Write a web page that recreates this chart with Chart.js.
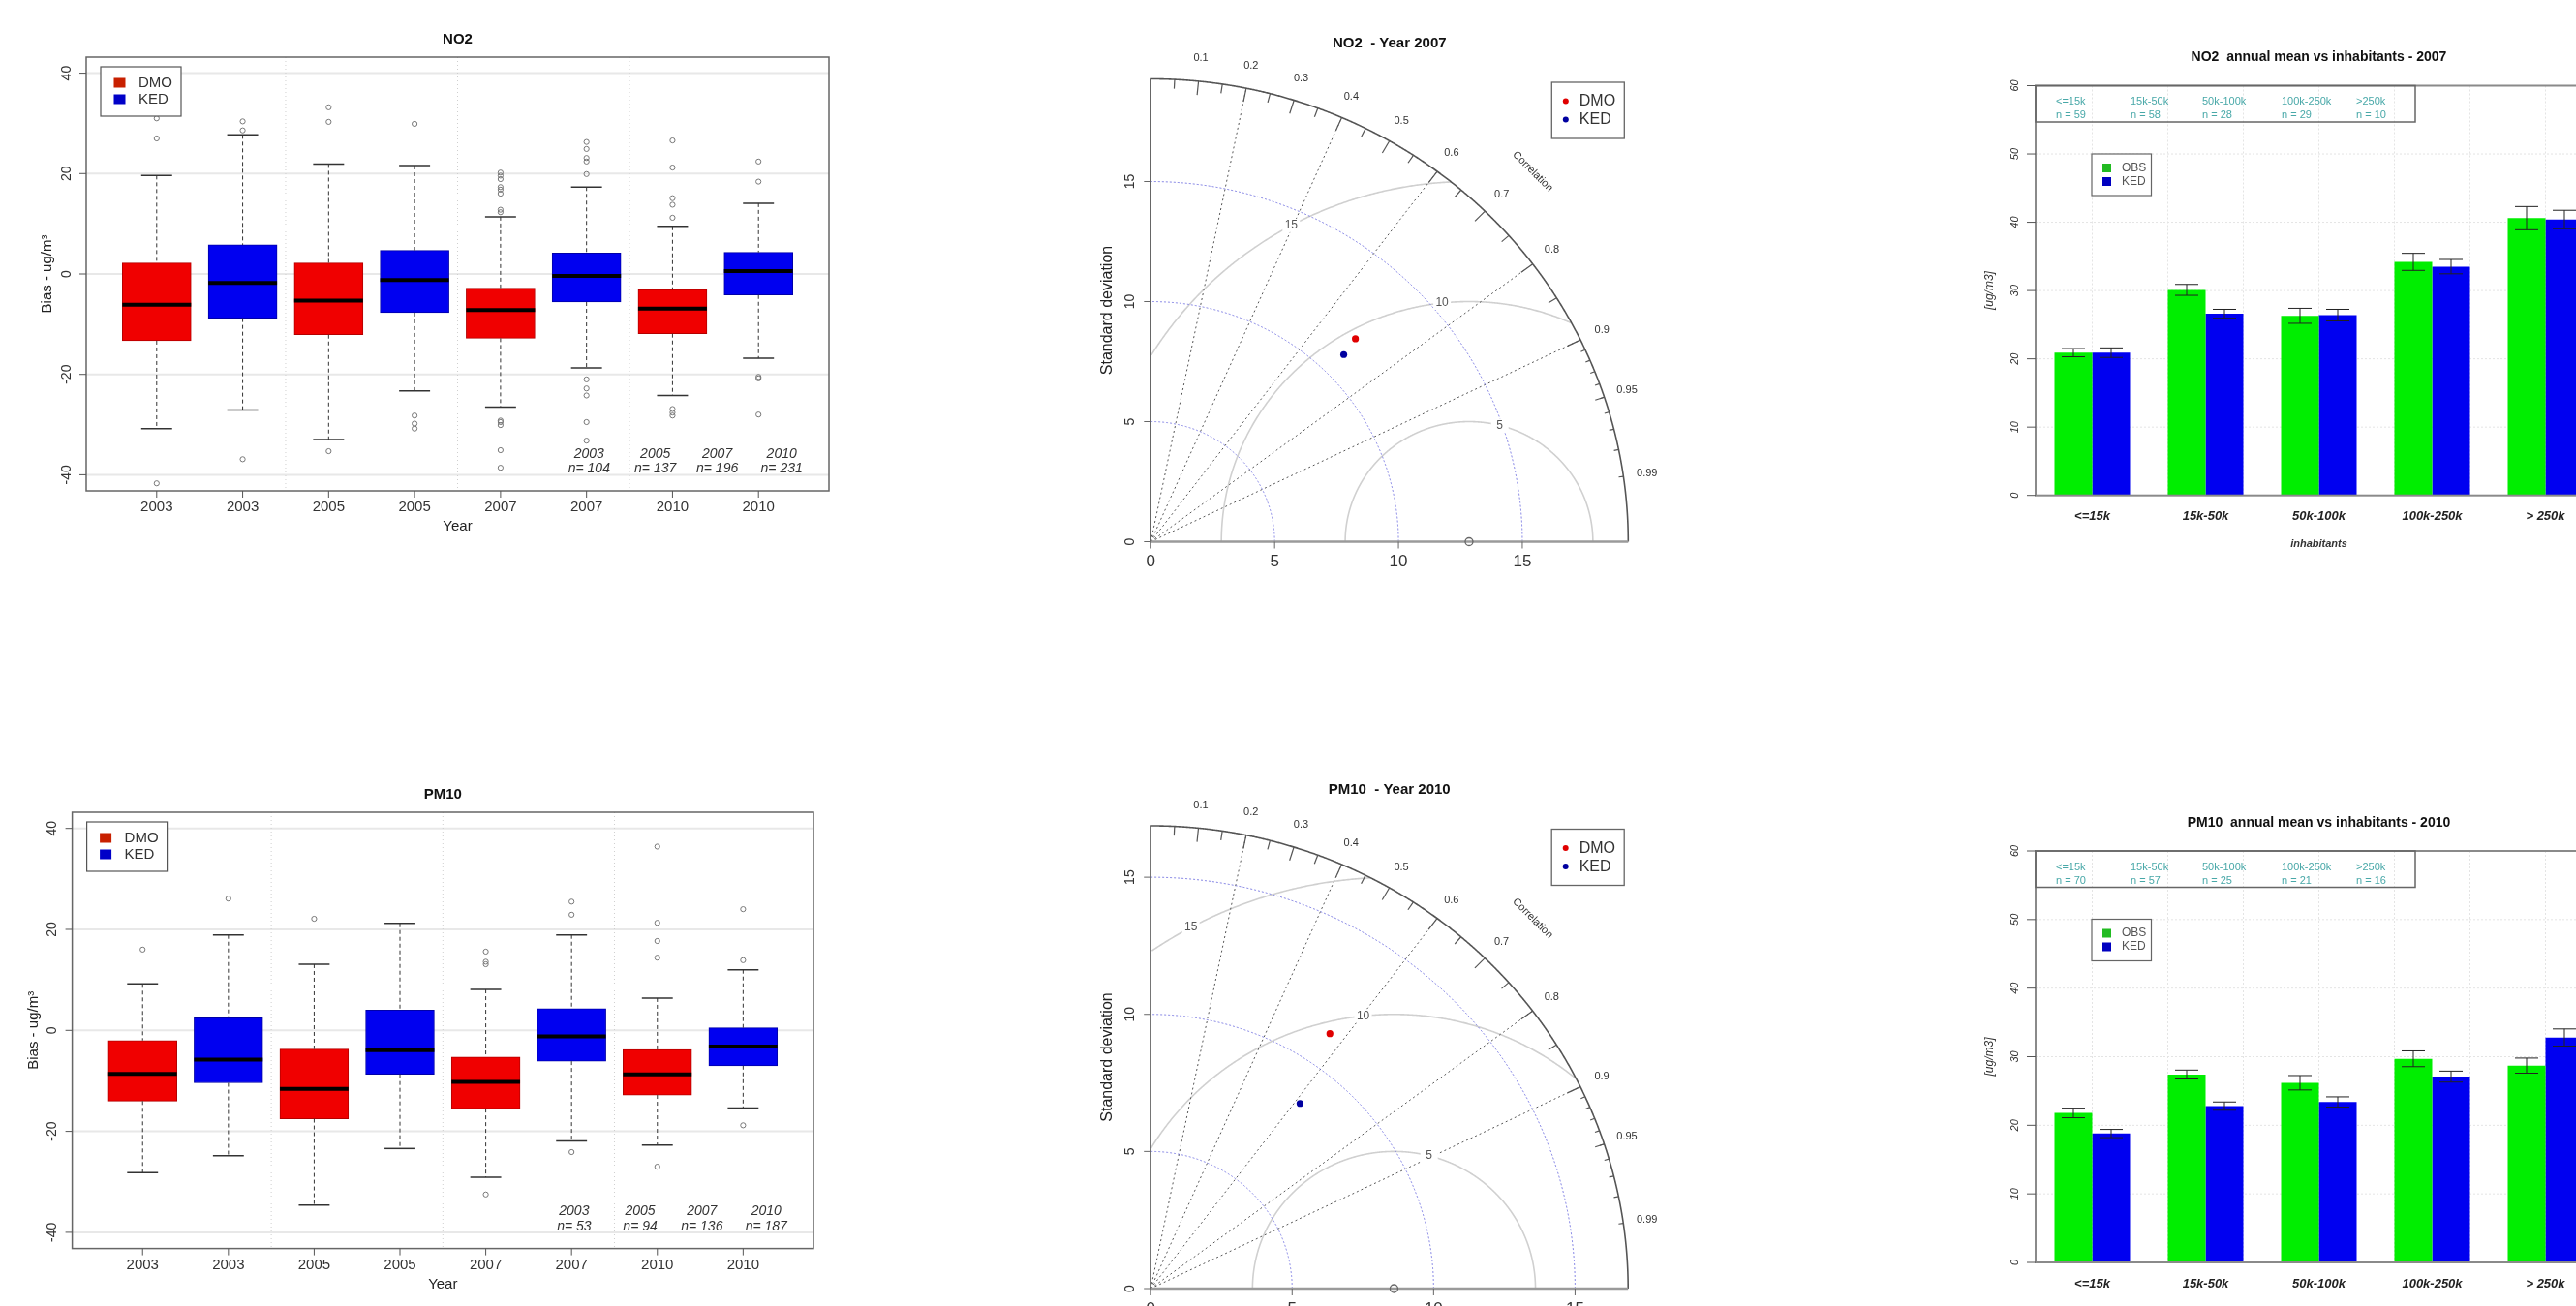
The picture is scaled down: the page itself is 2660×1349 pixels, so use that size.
<!DOCTYPE html>
<html>
<head>
<meta charset="utf-8">
<title>NO2 / PM10 evaluation</title>
<script src="https://cdn.jsdelivr.net/npm/chart.js@4.4.1/dist/chart.umd.min.js"></script>
<style>
  html, body { margin: 0; padding: 0; background: #fff; width: 2660px; height: 1349px; overflow: hidden; }
  canvas { position: absolute; }
</style>
</head>
<body>
<canvas id="boxNO2" width="900" height="580" style="left:0px;top:0px"></canvas>
<canvas id="boxPM10" width="900" height="559" style="left:0px;top:790px"></canvas>
<canvas id="taylorNO2" width="700" height="620" style="left:1080px;top:0px"></canvas>
<canvas id="taylorPM10" width="700" height="589" style="left:1080px;top:760px"></canvas>
<canvas id="barNO2" width="760" height="600" style="left:1960px;top:0px"></canvas>
<canvas id="barPM10" width="760" height="559" style="left:1960px;top:790px"></canvas>
<script>
// ---------- boxplots: bias (ug/m3), DMO and KED alternating ----------
const boxYears = ['2003', '2003', '2005', '2005', '2007', '2007', '2010', '2010'];
const boxSeries = ['DMO', 'KED'];
const boxTicks = [-40, -20, 0, 20, 40];
const nYears = ['2003', '2005', '2007', '2010'];

const no2Low = [-30.8, -27.1, -33.0, -23.3, -26.5, -18.7, -24.2, -16.8];
const no2Q1 = [-13.3, -8.8, -12.1, -7.7, -12.8, -5.6, -11.9, -4.2];
const no2Median = [-6.1, -1.8, -5.3, -1.2, -7.2, -0.4, -6.9, 0.6];
const no2Q3 = [2.2, 5.8, 2.2, 4.7, -2.8, 4.2, -3.1, 4.3];
const no2High = [19.6, 27.7, 21.9, 21.6, 11.4, 17.3, 9.5, 14.1];
const no2Outliers = [
  [31.0, 27.0, -41.7],
  [30.4, 28.6, -36.9],
  [33.2, 30.3, -35.3],
  [29.9, -28.2, -29.8, -30.8],
  [20.2, 19.6, 18.9, 17.3, 16.8, 16.0, 12.8, 12.3, -29.2, -29.5, -30.1, -35.1, -38.6],
  [26.3, 24.9, 23.1, 22.4, 19.9, -21.0, -22.8, -24.2, -29.5, -33.2],
  [26.6, 21.2, 15.1, 13.8, 11.2, -26.9, -27.6, -28.2],
  [22.4, 18.4, -20.5, -20.8, -28.0]
];
const no2Counts = [104, 137, 196, 231];

const pm10Low = [-28.2, -24.8, -34.6, -23.4, -29.1, -21.9, -22.7, -15.4];
const pm10Q1 = [-14.0, -10.4, -17.5, -8.7, -15.5, -6.1, -12.8, -7.0];
const pm10Median = [-8.6, -5.8, -11.6, -3.9, -10.2, -1.2, -8.7, -3.2];
const pm10Q3 = [-2.0, 2.5, -3.7, 4.0, -5.3, 4.3, -3.8, 0.5];
const pm10High = [9.2, 18.9, 13.1, 21.2, 8.1, 18.9, 6.4, 12.0];
const pm10Outliers = [
  [16.0],
  [26.1],
  [22.1],
  [],
  [15.6, 13.6, 13.1, -32.5],
  [25.5, 22.9, -24.1],
  [36.4, 21.3, 17.7, 14.4, -27.0],
  [24.0, 13.9, -18.8]
];
const pm10Counts = [53, 94, 136, 187];

// ---------- Taylor diagrams ----------
const taylorModels = ['DMO', 'KED'];
const taylorTicks = [0, 5, 10, 15];
const rmsLevels = [5, 10, 15];
const corrLines = [0.2, 0.4, 0.6, 0.8, 0.9];
const corrLabels = [0.1, 0.2, 0.3, 0.4, 0.5, 0.6, 0.7, 0.8, 0.9, 0.95, 0.99];

const no2RefSd = 12.85;
const no2Sd = [11.82, 11.02];
const no2Cor = [0.699, 0.707];

const pm10RefSd = 8.6;
const pm10Sd = [11.25, 8.57];
const pm10Cor = [0.563, 0.616];

// ---------- annual mean vs inhabitants ----------
const inhabitants = ['<=15k', '15k-50k', '50k-100k', '100k-250k', '> 250k'];
const inhabKeys = ['<=15k', '15k-50k', '50k-100k', '100k-250k', '>250k'];
const barTicks = [0, 10, 20, 30, 40, 50, 60];

const no2Obs = [20.9, 30.1, 26.3, 34.2, 40.6];
const no2ObsErr = [0.6, 0.8, 1.1, 1.25, 1.7];
const no2Ked = [20.9, 26.6, 26.4, 33.5, 40.4];
const no2KedErr = [0.7, 0.65, 0.85, 1.05, 1.35];
const no2Stations = [59, 58, 28, 29, 10];

const pm10Obs = [21.8, 27.4, 26.2, 29.7, 28.7];
const pm10ObsErr = [0.7, 0.65, 1.05, 1.15, 1.1];
const pm10Ked = [18.8, 22.8, 23.4, 27.1, 32.8];
const pm10KedErr = [0.6, 0.6, 0.75, 0.8, 1.25];
const pm10Stations = [70, 57, 25, 21, 16];

// ---------- drawing helpers ----------
const FONT = '"Liberation Sans", Arial, Helvetica, sans-serif';
const RED = '#f00000', RED_EDGE = '#b40000', BLUE = '#0000f0', BLUE_EDGE = '#0000a8';
const GREEN = '#00ee00';

function label(ctx, s, x, y, font, color, align, rot) {
  ctx.save();
  ctx.font = font + ' ' + FONT;
  ctx.fillStyle = color || '#222';
  ctx.textAlign = align || 'center';
  ctx.textBaseline = 'middle';
  ctx.translate(x, y);
  if (rot) ctx.rotate(rot);
  ctx.fillText(s, 0, 0);
  ctx.restore();
}

function seg(ctx, x1, y1, x2, y2) {
  ctx.beginPath();
  ctx.moveTo(x1, y1);
  ctx.lineTo(x2, y2);
  ctx.stroke();
}

function baseOptions(pad) {
  return {
    responsive: false,
    animation: false,
    devicePixelRatio: 1,
    events: [],
    layout: { padding: pad },
    plugins: { legend: { display: false }, tooltip: { enabled: false }, title: { display: false } }
  };
}

// ---------- boxplot panel ----------
const boxRange = [0.18, 8.82];
const countPos = [6.03, 6.8, 7.52, 8.27];

function boxplot(id, pad, title, lo, q1, med, q3, hi, outliers, counts) {
  const canvas = document.getElementById(id);
  const unit = (canvas.width - pad.left - pad.right) / (boxRange[1] - boxRange[0]);
  const pos = boxYears.map((_, i) => i + 1);
  const isDmo = pos.map((_, i) => i % 2 === 0);
  const outPts = outliers.flatMap((list, i) => list.map(v => ({ x: i + 1, y: v })));

  const opts = baseOptions(pad);
  opts.scales = {
    x: { type: 'linear', min: boxRange[0], max: boxRange[1], offset: false, display: false },
    y: { type: 'linear', min: -43.2, max: 43.2, display: false }
  };

  new Chart(canvas, {
    type: 'bar',
    data: {
      datasets: [{
        data: pos.map((p, i) => ({ x: p, y: [q1[i], q3[i]] })),
        backgroundColor: isDmo.map(d => d ? RED : BLUE),
        borderColor: isDmo.map(d => d ? RED_EDGE : BLUE_EDGE),
        borderWidth: 1,
        borderSkipped: false,
        barThickness: unit * 0.8
      }, {
        type: 'scatter',
        data: outPts,
        pointRadius: 2.6,
        borderWidth: 1,
        borderColor: '#777',
        backgroundColor: 'rgba(0,0,0,0)'
      }]
    },
    options: opts,
    plugins: [{
      id: 'boxDecor',
      beforeDatasetsDraw(chart) {
        const { ctx, chartArea: a, scales: { x, y } } = chart;
        ctx.save();
        ctx.strokeStyle = '#e8e8e8';
        ctx.lineWidth = 2;
        boxTicks.forEach(t => seg(ctx, a.left, y.getPixelForValue(t), a.right, y.getPixelForValue(t)));
        ctx.strokeStyle = '#cfcfcf';
        ctx.lineWidth = 1;
        ctx.setLineDash([1, 3]);
        [2.5, 4.5, 6.5].forEach(v => seg(ctx, x.getPixelForValue(v), a.top, x.getPixelForValue(v), a.bottom));
        ctx.restore();
      },
      afterDatasetsDraw(chart) {
        const { ctx, chartArea: a, scales: { x, y } } = chart;
        const Y = v => y.getPixelForValue(v);
        const half = unit * 0.4, cap = unit * 0.18;
        ctx.save();
        pos.forEach((p, i) => {
          const cx = x.getPixelForValue(p);
          ctx.strokeStyle = '#333';
          ctx.lineWidth = 1;
          ctx.setLineDash([4, 3]);
          seg(ctx, cx, Y(hi[i]), cx, Y(q3[i]));
          seg(ctx, cx, Y(q1[i]), cx, Y(lo[i]));
          ctx.setLineDash([]);
          ctx.lineWidth = 1.5;
          seg(ctx, cx - cap, Y(hi[i]), cx + cap, Y(hi[i]));
          seg(ctx, cx - cap, Y(lo[i]), cx + cap, Y(lo[i]));
          ctx.strokeStyle = '#000';
          ctx.lineWidth = 4;
          seg(ctx, cx - half, Y(med[i]), cx + half, Y(med[i]));
        });

        ctx.strokeStyle = '#666';
        ctx.lineWidth = 1.5;
        ctx.strokeRect(a.left, a.top, a.right - a.left, a.bottom - a.top);

        ctx.strokeStyle = '#555';
        ctx.lineWidth = 1;
        boxTicks.forEach(t => {
          seg(ctx, a.left - 7, Y(t), a.left, Y(t));
          label(ctx, String(t), a.left - 20, Y(t), '14px', '#333', 'center', -Math.PI / 2);
        });
        pos.forEach((p, i) => {
          const cx = x.getPixelForValue(p);
          seg(ctx, cx, a.bottom, cx, a.bottom + 7);
          label(ctx, boxYears[i], cx, a.bottom + 17, '15px', '#333');
        });
        label(ctx, 'Year', (a.left + a.right) / 2, a.bottom + 37, '15px', '#222');
        label(ctx, 'Bias - ug/m\u00b3', a.left - 40, (a.top + a.bottom) / 2, '15px', '#222', 'center', -Math.PI / 2);
        label(ctx, title, (a.left + a.right) / 2, a.top - 18, 'bold 15px', '#111');

        // legend
        const lx = a.left + 15, ly = a.top + 10;
        ctx.fillStyle = '#fff';
        ctx.fillRect(lx, ly, 83, 51);
        ctx.strokeStyle = '#555';
        ctx.lineWidth = 1.2;
        ctx.strokeRect(lx, ly, 83, 51);
        [RED, BLUE].forEach((c, k) => {
          ctx.fillStyle = k ? '#0000c8' : '#c82000';
          ctx.fillRect(lx + 13.5, ly + 11.5 + 17 * k, 12, 10);
          label(ctx, boxSeries[k], lx + 39, ly + 16.5 + 17 * k, '15px', '#333', 'left');
        });

        nYears.forEach((yr, k) => {
          const cx = x.getPixelForValue(countPos[k]);
          label(ctx, yr, cx, Y(-35.9), 'italic 14px', '#333');
          label(ctx, 'n= ' + counts[k], cx, Y(-38.8), 'italic 14px', '#333');
        });
        ctx.restore();
      }
    }]
  });
}

// ---------- Taylor diagram panel ----------
const bigTicks = Array.from({ length: 9 }, (_, k) => (k + 1) / 10);
const medTicks = Array.from({ length: 10 }, (_, k) => 0.05 + k / 10);
const tinyTicks = Array.from({ length: 9 }, (_, k) => 0.91 + k / 100);

function taylor(id, pad, title, ref, sds, cors) {
  const canvas = document.getElementById(id);
  const m = 1.5 * Math.max(ref, ...sds);
  const pts = sds.map((s, i) => ({ x: s * cors[i], y: s * Math.sqrt(1 - cors[i] * cors[i]) }));
  const opts = baseOptions(pad);
  opts.scales = {
    x: { type: 'linear', min: 0, max: m * 1.1, display: false },
    y: { type: 'linear', min: 0, max: m * 1.1, display: false }
  };
  const colors = ['#e00000', '#0000a0'];

  new Chart(canvas, {
    type: 'scatter',
    data: {
      datasets: [
        { label: taylorModels[0], data: [pts[0]], pointRadius: 3.6, borderWidth: 0, backgroundColor: colors[0], clip: false },
        { label: taylorModels[1], data: [pts[1]], pointRadius: 3.6, borderWidth: 0, backgroundColor: colors[1], clip: false },
        { label: 'ref', data: [{ x: ref, y: 0 }], pointRadius: 4, borderWidth: 1.3, borderColor: '#666', backgroundColor: 'rgba(0,0,0,0)', clip: false }
      ]
    },
    options: opts,
    plugins: [{
      id: 'taylorDecor',
      beforeDatasetsDraw(chart) {
        const { ctx, scales: { x, y } } = chart;
        const X = v => x.getPixelForValue(v), Y = v => y.getPixelForValue(v);
        const path = list => {
          if (!list.length) return;
          ctx.beginPath();
          list.forEach(([u, v], k) => k ? ctx.lineTo(X(u), Y(v)) : ctx.moveTo(X(u), Y(v)));
          ctx.stroke();
        };
        const arc = (cx, r, t0, t1) => {
          const out = [];
          const n = 900;
          for (let k = 0; k <= n; k++) {
            const t = t0 + (t1 - t0) * k / n;
            const u = cx + r * Math.cos(t), v = r * Math.sin(t);
            if (u >= -1e-9 && u * u + v * v <= m * m + 1e-6) out.push([u, v]);
          }
          return out;
        };
        ctx.save();
        ctx.strokeStyle = '#d0d0d0';
        ctx.lineWidth = 1.6;
        rmsLevels.forEach(g => path(arc(ref, g, 0, Math.PI)));

        ctx.strokeStyle = '#555';
        ctx.lineWidth = 1;
        ctx.setLineDash([2, 3]);
        corrLines.forEach(c => path([[0, 0], [m * c, m * Math.sqrt(1 - c * c)]]));

        ctx.strokeStyle = '#7474e0';
        ctx.setLineDash([2, 2]);
        taylorTicks.filter(t => t > 0).forEach(r => path(arc(0, r, 0, Math.PI / 2)));
        ctx.setLineDash([]);

        ctx.strokeStyle = '#555';
        ctx.lineWidth = 1.6;
        path(arc(0, m, 0, Math.PI / 2));
        ctx.lineWidth = 1.2;
        const tick = (c, k) => {
          const s = Math.sqrt(1 - c * c);
          path([[m * c, m * s], [k * m * c, k * m * s]]);
        };
        bigTicks.forEach(c => tick(c, 0.97));
        medTicks.forEach(c => tick(c, 0.98));
        tinyTicks.forEach(c => tick(c, 0.99));

        // axes
        ctx.strokeStyle = '#9a9a9a';
        ctx.lineWidth = 2.5;
        seg(ctx, X(0), Y(0), X(m), Y(0));
        ctx.strokeStyle = '#666';
        ctx.lineWidth = 1.4;
        seg(ctx, X(0), Y(0), X(0), Y(m));
        ctx.lineWidth = 1;
        taylorTicks.forEach(t => {
          seg(ctx, X(0) - 7, Y(t), X(0), Y(t));
          seg(ctx, X(t), Y(0), X(t), Y(0) + 7);
        });
        ctx.restore();
      },
      afterDatasetsDraw(chart) {
        const { ctx, scales: { x, y } } = chart;
        const X = v => x.getPixelForValue(v), Y = v => y.getPixelForValue(v);
        ctx.save();
        // RMS labels
        rmsLevels.forEach((g, k) => {
          const idx = Math.floor(45 + 25 * k / (rmsLevels.length - 1));
          const t = (idx - 1) * 0.03;
          const u = ref + g * Math.cos(t), v = g * Math.sin(t);
          if (u > 0) {
            ctx.fillStyle = '#fff';
            ctx.fillRect(X(u) - 9, Y(v) - 7, 18, 14);
            label(ctx, String(g), X(u), Y(v), '12px', '#555');
          }
        });
        corrLabels.forEach(c => {
          const r = 1.05 * m;
          label(ctx, String(c), X(r * c), Y(r * Math.sqrt(1 - c * c)), '11px', '#333');
        });
        label(ctx, 'Correlation', X(0.8 * m), Y(0.8 * m), '11px', '#333', 'center', Math.PI / 4);

        taylorTicks.forEach(t => {
          label(ctx, String(t), X(0) - 21, Y(t), '14px', '#333', 'center', -Math.PI / 2);
          label(ctx, String(t), X(t), Y(0) + 21, '17px', '#333');
        });
        label(ctx, 'Standard deviation', X(0) - 45, (Y(0) + Y(m)) / 2, '16px', '#222', 'center', -Math.PI / 2);
        label(ctx, title, X(m / 2), Y(m) - 37, 'bold 15px', '#111');

        // legend
        const lx = X(0) + 414, ly = Y(m) + 3.5;
        ctx.fillStyle = '#fff';
        ctx.fillRect(lx, ly, 75, 58);
        ctx.strokeStyle = '#666';
        ctx.lineWidth = 1.3;
        ctx.strokeRect(lx, ly, 75, 58);
        taylorModels.forEach((name, k) => {
          ctx.fillStyle = colors[k];
          ctx.beginPath();
          ctx.arc(lx + 14.5, ly + 19.5 + 19 * k, 3, 0, Math.PI * 2);
          ctx.fill();
          label(ctx, name, lx + 28.5, ly + 20 + 19 * k, '16px', '#333', 'left');
        });
        ctx.restore();
      }
    }]
  });
}

// ---------- bar panel ----------
const gridCats = [0, 2 / 3, 4 / 3, 2, 8 / 3, 10 / 3, 4];
const infoOffsets = [21, 98, 172, 254, 331];

function barPanel(id, pad, title, obs, obsErr, ked, kedErr, stations) {
  const canvas = document.getElementById(id);
  const opts = baseOptions(pad);
  opts.scales = {
    x: { display: false },
    y: { min: 0, max: 60, display: false }
  };
  new Chart(canvas, {
    type: 'bar',
    data: {
      labels: inhabitants,
      datasets: [
        { label: 'OBS', data: obs, backgroundColor: GREEN, borderWidth: 0, categoryPercentage: 2 / 3, barPercentage: 1 },
        { label: 'KED', data: ked, backgroundColor: BLUE, borderWidth: 0, categoryPercentage: 2 / 3, barPercentage: 1 }
      ]
    },
    options: opts,
    plugins: [{
      id: 'barDecor',
      beforeDatasetsDraw(chart) {
        const { ctx, chartArea: a, scales: { x, y } } = chart;
        ctx.save();
        ctx.strokeStyle = '#e4e4e4';
        ctx.lineWidth = 1;
        ctx.setLineDash([2, 2]);
        barTicks.slice(1, -1).forEach(t => seg(ctx, a.left, y.getPixelForValue(t), a.right, y.getPixelForValue(t)));
        gridCats.forEach(c => seg(ctx, x.getPixelForValue(c), a.top, x.getPixelForValue(c), a.bottom));
        ctx.restore();
      },
      afterDatasetsDraw(chart) {
        const { ctx, chartArea: a, scales: { x, y } } = chart;
        const Y = v => y.getPixelForValue(v);
        ctx.save();
        ctx.strokeStyle = '#222';
        ctx.lineWidth = 1;
        [[obs, obsErr], [ked, kedErr]].forEach(([vals, errs], d) => {
          chart.getDatasetMeta(d).data.forEach((bar, i) => {
            const t = Y(vals[i] + errs[i]), b = Y(vals[i] - errs[i]);
            seg(ctx, bar.x, t, bar.x, b);
            seg(ctx, bar.x - 12, t, bar.x + 12, t);
            seg(ctx, bar.x - 12, b, bar.x + 12, b);
          });
        });

        ctx.strokeStyle = '#8a8a8a';
        ctx.lineWidth = 2;
        ctx.strokeRect(a.left, a.top, a.right - a.left, a.bottom - a.top);

        ctx.strokeStyle = '#555';
        ctx.lineWidth = 1;
        barTicks.forEach(t => {
          seg(ctx, a.left - 9, Y(t), a.left, Y(t));
          label(ctx, String(t), a.left - 21, Y(t), 'italic 11px', '#333', 'center', -Math.PI / 2);
        });
        inhabitants.forEach((s, i) => label(ctx, s, x.getPixelForValue(i), a.bottom + 22, 'bold italic 13px', '#222'));
        label(ctx, 'inhabitants', x.getPixelForValue(2), a.bottom + 50, 'bold italic 11px', '#333');
        label(ctx, '[ug/m3]', a.left - 47, (a.top + a.bottom) / 2, 'italic 12px', '#333', 'center', -Math.PI / 2);
        label(ctx, title, x.getPixelForValue(2), a.top - 29, 'bold 14px', '#111');

        // station counts box
        ctx.strokeStyle = '#666';
        ctx.lineWidth = 1.5;
        ctx.strokeRect(a.left, a.top, 392, 37.5);
        inhabKeys.forEach((s, i) => {
          label(ctx, s, a.left + infoOffsets[i], a.top + 16.5, '11px', '#48a8a8', 'left');
          label(ctx, 'n = ' + stations[i], a.left + infoOffsets[i], a.top + 30.5, '11px', '#48a8a8', 'left');
        });

        // legend
        const lx = a.left + 58, ly = a.top + 70.5;
        ctx.fillStyle = '#fff';
        ctx.fillRect(lx, ly, 61.5, 43);
        ctx.strokeStyle = '#666';
        ctx.lineWidth = 1.2;
        ctx.strokeRect(lx, ly, 61.5, 43);
        [['OBS', '#22bb22'], ['KED', '#0000c0']].forEach(([name, c], k) => {
          ctx.fillStyle = c;
          ctx.fillRect(lx + 11, ly + 10 + 14 * k, 9, 9);
          label(ctx, name, lx + 31, ly + 14.5 + 14 * k, '12px', '#555', 'left');
        });
        ctx.restore();
      }
    }]
  });
}

boxplot('boxNO2', { left: 89, right: 44, top: 59, bottom: 73 }, 'NO2',
  no2Low, no2Q1, no2Median, no2Q3, no2High, no2Outliers, no2Counts);
boxplot('boxPM10', { left: 74.6, right: 60, top: 49, bottom: 59.4 }, 'PM10',
  pm10Low, pm10Q1, pm10Median, pm10Q3, pm10High, pm10Outliers, pm10Counts);

taylor('taylorNO2', { left: 108.3, right: 49.4, top: 33.7, bottom: 60.5 }, 'NO2  - Year 2007',
  no2RefSd, no2Sd, no2Cor);
taylor('taylorPM10', { left: 108.2, right: 49.5, top: 45.2, bottom: 18 }, 'PM10  - Year 2010',
  pm10RefSd, pm10Sd, pm10Cor);

barPanel('barNO2', { left: 142, right: 33, top: 88.5, bottom: 88.3 }, 'NO2  annual mean vs inhabitants - 2007',
  no2Obs, no2ObsErr, no2Ked, no2KedErr, no2Stations);
barPanel('barPM10', { left: 142, right: 33, top: 89, bottom: 45 }, 'PM10  annual mean vs inhabitants - 2010',
  pm10Obs, pm10ObsErr, pm10Ked, pm10KedErr, pm10Stations);
</script>
</body>
</html>
